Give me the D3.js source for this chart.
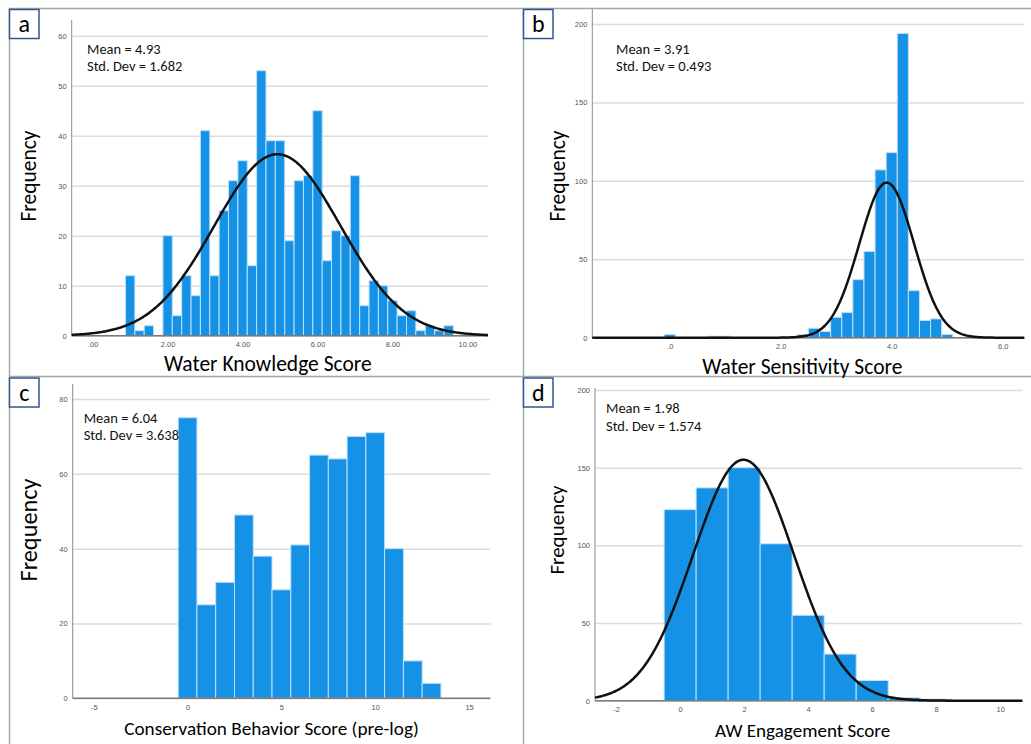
<!DOCTYPE html>
<html>
<head>
<meta charset="utf-8">
<script src="https://cdn.jsdelivr.net/npm/d3@7"></script>
<style>
  body { margin: 0; background: #fff; }
  text { font-family: Carlito, Calibri, Lato, "Open Sans", sans-serif; }
  .tick text { font-family: "Liberation Sans", Arial, sans-serif; }
</style>
</head>
<body>
<svg id="chart" width="1031" height="744"></svg>
<script>
// a: Water Knowledge Score (bin width .25)
const knowledgeBins = [1.0, 1.25, 1.5, 1.75, 2.0, 2.25, 2.5, 2.75, 3.0, 3.25, 3.5, 3.75, 4.0, 4.25, 4.5, 4.75,
    5.0, 5.25, 5.5, 5.75, 6.0, 6.25, 6.5, 6.75, 7.0, 7.25, 7.5, 7.75, 8.0, 8.25, 8.5, 8.75, 9.0, 9.25, 9.5];
const knowledgeCounts = [12, 1, 2, 0, 20, 4, 12, 8, 41, 12, 25, 31, 35, 14, 53, 39,
    39, 19, 31, 32, 45, 15, 21, 20, 32, 6, 11, 10, 7, 4, 5, 1, 2, 1, 2];
const knowledgeTicks = [0, 2, 4, 6, 8, 10];
const knowledgeTickLabels = ['.00', '2.00', '4.00', '6.00', '8.00', '10.00'];

// b: Water Sensitivity Score (bin width .2)
const sensitivityBins = [0.0, 0.8, 1.0, 2.4, 2.6, 2.8, 3.0, 3.2, 3.4, 3.6, 3.8, 4.0, 4.2, 4.4, 4.6, 4.8, 5.0];
const sensitivityCounts = [2, 1, 1, 2, 6, 4, 13, 16, 37, 55, 107, 118, 194, 30, 11, 12, 2];
const sensitivityTicks = [0, 2, 4, 6];
const sensitivityTickLabels = ['.0', '2.0', '4.0', '6.0'];

// c: Conservation Behavior Score (bin width 1)
const conservationBins = [0, 1, 2, 3, 4, 5, 6, 7, 8, 9, 10, 11, 12, 13];
const conservationCounts = [75, 25, 31, 49, 38, 29, 41, 65, 64, 70, 71, 40, 10, 4];
const conservationTicks = [-5, 0, 5, 10, 15];
const conservationTickLabels = ['-5', '0', '5', '10', '15'];

// d: AW Engagement Score (bin width 1)
const engagementBins = [0, 1, 2, 3, 4, 5, 6, 7, 8];
const engagementCounts = [123, 137, 150, 101, 55, 30, 13, 2, 1];
const engagementTicks = [-2, 0, 2, 4, 6, 8, 10];
const engagementTickLabels = ['-2', '0', '2', '4', '6', '8', '10'];

const panels = [
    {letter: 'a', bins: knowledgeBins, counts: knowledgeCounts, binWidth: 0.25,
     xTicks: knowledgeTicks, xLabels: knowledgeTickLabels, yTicks: [0, 10, 20, 30, 40, 50, 60],
     mean: 4.93, sd: 1.682, meanText: 'Mean = 4.93', sdText: 'Std. Dev = 1.682', curve: true,
     title: 'Water Knowledge Score', titleSize: 21.5, titleShift: -12, freqSize: 21.5,
     xDomain: [-0.56, 10.55], xRange: [71.7, 488], yDomain: [0, 60], yRange: [335.7, 35.7], axisTop: 20,
     box: [9.5, 9.5], freq: [28.5, 176], titleY: 363, statX: 87, statY: 49},
    {letter: 'b', bins: sensitivityBins, counts: sensitivityCounts, binWidth: 0.2,
     xTicks: sensitivityTicks, xLabels: sensitivityTickLabels, yTicks: [0, 50, 100, 150, 200],
     mean: 3.91, sd: 0.493, meanText: 'Mean = 3.91', sdText: 'Std. Dev = 0.493', curve: true,
     title: 'Water Sensitivity Score', titleSize: 21.5, titleShift: -6, freqSize: 21.5,
     xDomain: [-1.395, 6.389], xRange: [592.3, 1024.3], yDomain: [0, 200], yRange: [337.7, 24], axisTop: 9,
     box: [523.5, 9.5], freq: [557, 176], titleY: 366, statX: 616, statY: 49},
    {letter: 'c', bins: conservationBins, counts: conservationCounts, binWidth: 1,
     xTicks: conservationTicks, xLabels: conservationTickLabels, yTicks: [0, 20, 40, 60, 80],
     mean: 6.04, sd: 3.638, meanText: 'Mean = 6.04', sdText: 'Std. Dev = 3.638', curve: false,
     title: 'Conservation Behavior Score (pre-log)', titleSize: 19.2, titleShift: -10, freqSize: 24.3,
     xDomain: [-6.12, 16.13], xRange: [72.7, 490.3], yDomain: [0, 80], yRange: [698.3, 399], axisTop: 384,
     box: [9.5, 378], freq: [28.5, 530], titleY: 728, statX: 83.7, statY: 417.7},
    {letter: 'd', bins: engagementBins, counts: engagementCounts, binWidth: 1,
     xTicks: engagementTicks, xLabels: engagementTickLabels, yTicks: [0, 50, 100, 150, 200],
     mean: 1.98, sd: 1.574, meanText: 'Mean = 1.98', sdText: 'Std. Dev = 1.574', curve: true,
     title: 'AW Engagement Score', titleSize: 19.1, titleShift: -6, freqSize: 21,
     xDomain: [-2.66, 10.69], xRange: [595, 1022.3], yDomain: [0, 200], yRange: [700.7, 390], axisTop: 388,
     box: [523.5, 378], freq: [557, 530], titleY: 730, statX: 606, statY: 408.3}
];

const svg = d3.select('#chart');

// outer frame / separators
const frame = svg.append('g').attr('stroke', '#a6a6a6').attr('stroke-width', 1.5);
frame.append('line').attr('x1', 9).attr('x2', 1031).attr('y1', 8.5).attr('y2', 8.5);
frame.append('line').attr('x1', 9.5).attr('x2', 9.5).attr('y1', 8).attr('y2', 744);
frame.append('line').attr('x1', 523.5).attr('x2', 523.5).attr('y1', 8).attr('y2', 744);
frame.append('line').attr('x1', 9).attr('x2', 1031).attr('y1', 376.5).attr('y2', 376.5);

const drawPanel = (p) => {
    const g = svg.append('g').attr('class', 'panel-' + p.letter);
    const x = d3.scaleLinear().domain(p.xDomain).range(p.xRange);
    const y = d3.scaleLinear().domain(p.yDomain).range(p.yRange);
    const left = p.xRange[0], right = p.xRange[1];

    // grid + y tick labels
    const yAxis = g.append('g').attr('transform', `translate(${left},0)`)
        .call(d3.axisLeft(y).tickValues(p.yTicks).tickSize(-(right - left)).tickPadding(5));
    yAxis.select('.domain').remove();
    yAxis.selectAll('.tick line').attr('stroke', '#dcdcdc').attr('stroke-width', 1.5);
    yAxis.selectAll('.tick text').attr('font-size', 7.5).attr('fill', '#555');

    // bars
    const bins = p.bins.map((b, i) => ({x: b, n: p.counts[i]})).filter((d) => d.n > 0);
    g.selectAll('rect.bar').data(bins).enter().append('rect').classed('bar', true)
        .attr('x', (d) => x(d.x - p.binWidth / 2))
        .attr('width', (d) => x(d.x + p.binWidth / 2) - x(d.x - p.binWidth / 2))
        .attr('y', (d) => y(d.n))
        .attr('height', (d) => y(0) - y(d.n))
        .attr('fill', '#1591e6')
        .attr('stroke', '#bfe0fa')
        .attr('stroke-width', 1);

    // axis lines
    g.append('line').attr('x1', left).attr('x2', left).attr('y1', p.axisTop).attr('y2', y(0))
        .attr('stroke', '#8c8c8c').attr('stroke-width', 1);
    g.append('line').attr('x1', left).attr('x2', right).attr('y1', y(0)).attr('y2', y(0))
        .attr('stroke', '#7a7a7a').attr('stroke-width', 1.5);

    // x tick labels
    const xAxis = g.append('g').attr('transform', `translate(0,${y(0)})`)
        .call(d3.axisBottom(x).tickValues(p.xTicks).tickFormat((d, i) => p.xLabels[i]).tickSize(0).tickPadding(6));
    xAxis.select('.domain').remove();
    xAxis.selectAll('.tick text').attr('font-size', 7.5).attr('fill', '#555');

    // fitted normal curve
    if (p.curve) {
        const n = d3.sum(p.counts);
        const pdf = (v) => n * p.binWidth * Math.exp(-0.5 * ((v - p.mean) / p.sd) ** 2) / (p.sd * Math.sqrt(2 * Math.PI));
        const xs = d3.range(0, 401).map((i) => p.xDomain[0] + (p.xDomain[1] - p.xDomain[0]) * i / 400);
        g.append('path').datum(xs)
            .attr('d', d3.line().x((v) => x(v)).y((v) => y(pdf(v))))
            .attr('fill', 'none').attr('stroke', '#111').attr('stroke-width', 2.5);
    }

    // stats text
    g.append('text').attr('x', p.statX).attr('y', p.statY).attr('dy', '0.35em')
        .attr('font-size', 14.5).attr('fill', '#111').text(p.meanText);
    g.append('text').attr('x', p.statX).attr('y', p.statY + 17.3).attr('dy', '0.35em')
        .attr('font-size', 14.5).attr('fill', '#111').text(p.sdText);

    // axis titles
    g.append('text').attr('transform', `translate(${p.freq[0]},${p.freq[1]}) rotate(-90)`)
        .attr('text-anchor', 'middle').attr('dy', '0.35em').attr('font-size', p.freqSize).attr('fill', '#000')
        .text('Frequency');
    g.append('text').attr('x', (left + right) / 2 + p.titleShift)
        .attr('y', p.titleY).attr('dy', '0.35em').attr('text-anchor', 'middle')
        .attr('font-size', p.titleSize).attr('fill', '#000').text(p.title);

    // panel letter box
    g.append('rect').attr('x', p.box[0]).attr('y', p.box[1]).attr('width', 29.5).attr('height', 29)
        .attr('fill', '#fff').attr('stroke', '#2f5597').attr('stroke-width', 1.5);
    g.append('text').attr('x', p.box[0] + 14.75).attr('y', p.box[1] + 14.5).attr('dy', '0.35em')
        .attr('text-anchor', 'middle').attr('font-size', 24).attr('fill', '#000').text(p.letter);
};

panels.forEach(drawPanel);
</script>
</body>
</html>
